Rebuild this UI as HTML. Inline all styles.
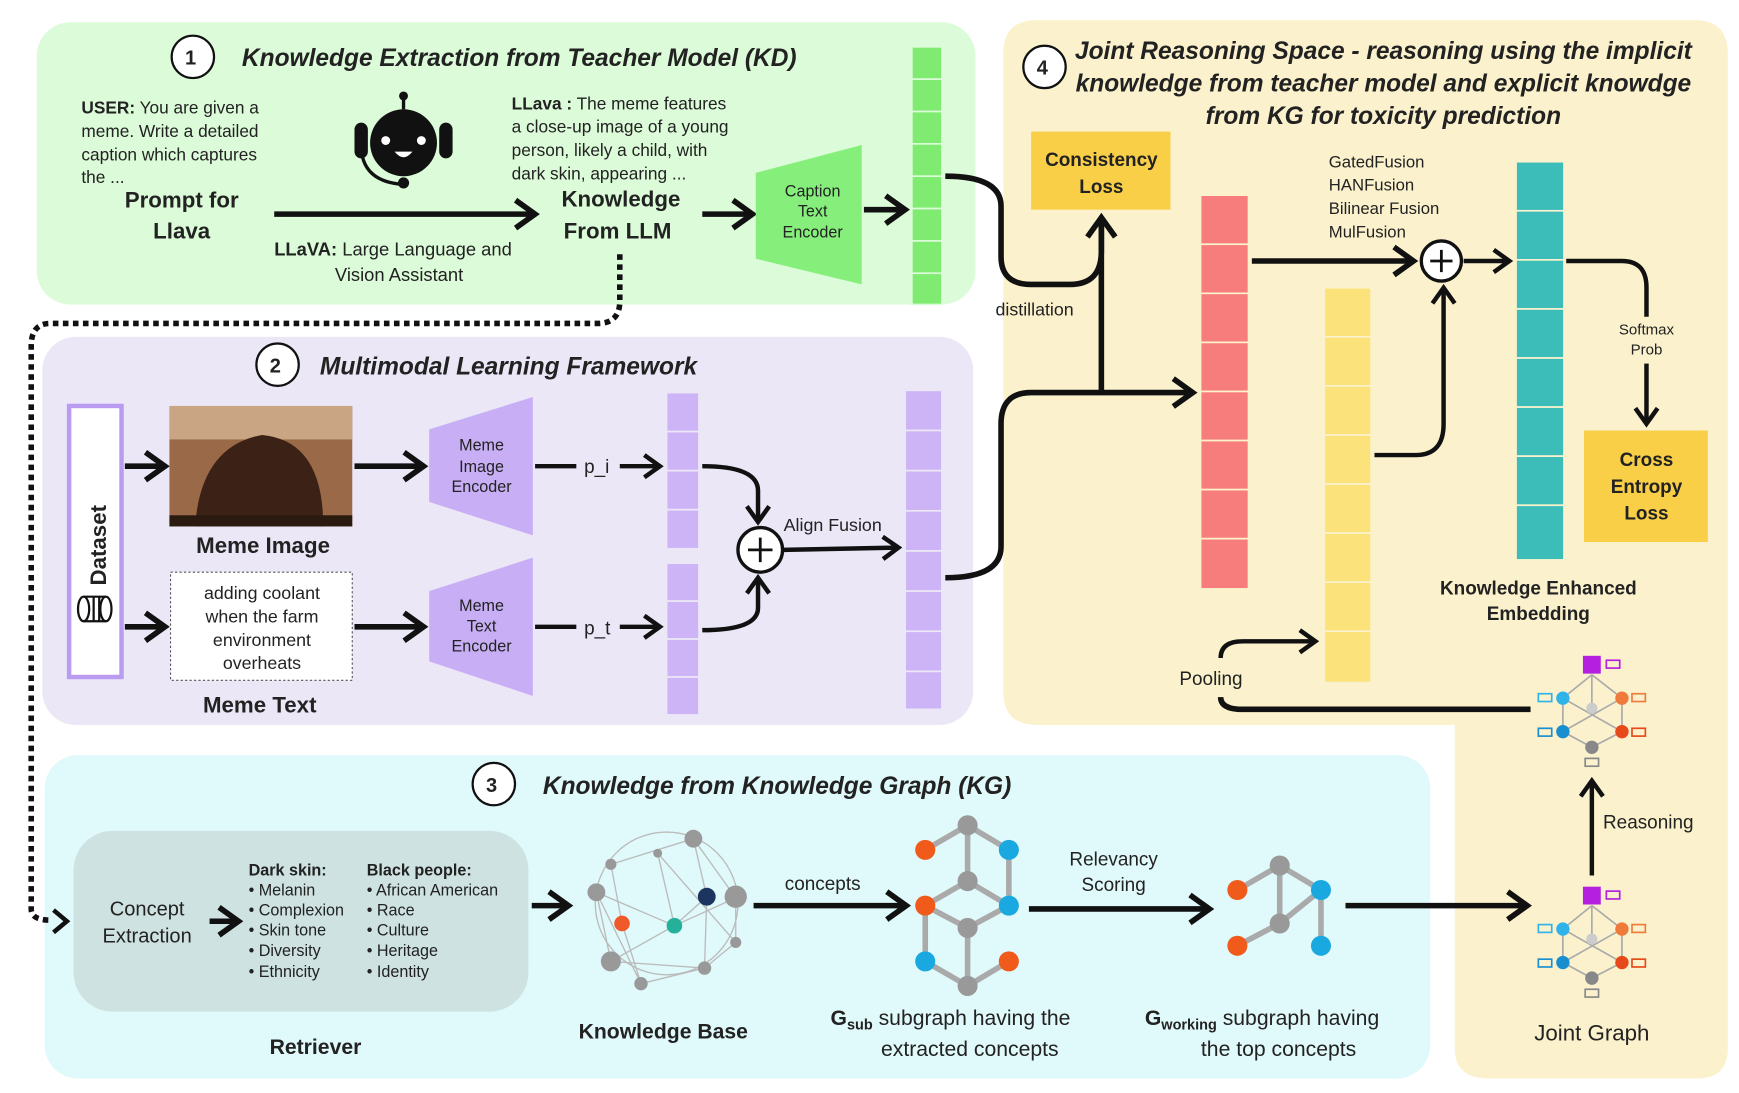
<!DOCTYPE html>
<html><head><meta charset="utf-8"><style>
html,body{margin:0;padding:0;background:#fff}
svg{display:block}
text{font-family:"Liberation Sans",sans-serif;fill:#222}
.t{font-style:italic;font-weight:bold;font-size:22px}
.b{font-weight:bold}
</style></head><body>
<svg width="1739" height="1093" viewBox="0 0 1560 980" preserveAspectRatio="none" xmlns="http://www.w3.org/2000/svg">
<defs>
<marker id="a" markerWidth="6" markerHeight="6" refX="4" refY="3" orient="auto" markerUnits="strokeWidth"><path d="M0.5,0.5 L4,3 L0.5,5.5" fill="none" stroke="#111" stroke-width="1"/></marker>
</defs>
<!-- panels -->
<rect x="33" y="20" width="842" height="253" rx="30" fill="#dcfbd8"/>
<rect x="38" y="302" width="835" height="348" rx="30" fill="#ebe7f7"/>
<rect x="40" y="677" width="1243" height="290" rx="30" fill="#e0f9fa"/>
<path d="M930,18 H1520 Q1550,18 1550,48 V940 Q1550,967 1522,967 H1335 Q1305,967 1305,940 V650 H930 Q900,650 900,620 V48 Q900,18 930,18Z" fill="#fbf2cd"/>

<!-- panel 1 -->
<circle cx="173" cy="51" r="19" fill="#fff" stroke="#111" stroke-width="2"/><text x="166" y="58" class="b" font-size="18">1</text>
<text x="217" y="59" class="t">Knowledge Extraction from Teacher Model  (KD)</text>
<g font-size="15.5"><text x="73" y="102"><tspan class="b">USER:</tspan>  You are given a</text>
<text x="73" y="123">meme. Write a detailed</text><text x="73" y="144">caption which captures</text><text x="73" y="164">the ...</text></g>
<text x="163" y="186" class="b" font-size="20" text-anchor="middle">Prompt for</text>
<text x="163" y="214" class="b" font-size="20" text-anchor="middle">Llava</text>
<!-- robot -->
<g fill="#111"><circle cx="362" cy="128" r="30"/><rect x="318" y="110" width="12" height="32" rx="6"/><rect x="394" y="110" width="12" height="32" rx="6"/><line x1="362" y1="98" x2="362" y2="88" stroke="#111" stroke-width="3"/><circle cx="362" cy="86" r="4"/><path d="M325,140 Q330,162 358,165" fill="none" stroke="#111" stroke-width="3"/><circle cx="362" cy="164" r="5"/>
<circle cx="346" cy="126" r="4" fill="#fff"/><circle cx="378" cy="126" r="4" fill="#fff"/><path d="M354,136 Q362,146 370,136Z" fill="#fff"/></g>
<line x1="246" y1="192" x2="480" y2="192" stroke="#111" stroke-width="5" marker-end="url(#a)"/>
<text x="246" y="229" font-size="16.5"><tspan class="b">LLaVA:</tspan> Large Language and</text>
<text x="358" y="252" font-size="16.5" text-anchor="middle">Vision Assistant</text>
<g font-size="15.5"><text x="459" y="98"><tspan class="b">LLava :</tspan> The meme features</text>
<text x="459" y="119">a close-up image of a young</text><text x="459" y="140">person,  likely  a child,  with</text><text x="459" y="161">dark skin, appearing ...</text></g>
<text x="557" y="185" class="b" font-size="20" text-anchor="middle">Knowledge</text>
<text x="554" y="214" class="b" font-size="20" text-anchor="middle">From LLM</text>
<line x1="630" y1="192" x2="675" y2="192" stroke="#111" stroke-width="5" marker-end="url(#a)"/>
<polygon points="678,155 773,130 773,255 678,232" fill="#86ef7c"/>
<text x="729" y="176" font-size="14.5" text-anchor="middle">Caption</text><text x="729" y="194" font-size="14.5" text-anchor="middle">Text</text><text x="729" y="213" font-size="14.5" text-anchor="middle">Encoder</text>
<line x1="775" y1="188" x2="812" y2="188" stroke="#111" stroke-width="5" marker-end="url(#a)"/>
<g fill="#7feb70" stroke="#dcfbd8" stroke-width="1.5">
<rect x="818" y="42" width="27" height="29"/><rect x="818" y="71" width="27" height="29"/><rect x="818" y="100" width="27" height="29"/><rect x="818" y="129" width="27" height="29"/><rect x="818" y="158" width="27" height="29"/><rect x="818" y="187" width="27" height="29"/><rect x="818" y="216" width="27" height="29"/><rect x="818" y="245" width="27" height="28"/></g>
<!-- dotted line -->
<path d="M556,228 V270 Q556,290 536,290 H45 Q28,290 28,310 V815 Q28,825 45,825" fill="none" stroke="#111" stroke-width="5" stroke-dasharray="5 4"/>
<path d="M48,816 L60,826 L48,836" fill="none" stroke="#111" stroke-width="4"/>
<!-- panel 2 -->
<circle cx="249" cy="327" r="19" fill="#fff" stroke="#111" stroke-width="2"/><text x="242" y="334" class="b" font-size="18">2</text>
<text x="287" y="336" class="t">Multimodal Learning Framework</text>
<rect x="62" y="364" width="47" height="243" fill="#fff" stroke="#b99cf1" stroke-width="4"/>
<text transform="translate(95,525) rotate(-90)" class="b" font-size="20">Dataset</text>
<g fill="none" stroke="#111" stroke-width="2"><ellipse cx="75" cy="546" rx="5" ry="11"/><path d="M75,535 H95 M75,557 H95"/><ellipse cx="95" cy="546" rx="5" ry="11"/><line x1="84" y1="535" x2="84" y2="557"/><line x1="89" y1="535" x2="89" y2="557"/></g>
<line x1="112" y1="418" x2="148" y2="418" stroke="#111" stroke-width="5" marker-end="url(#a)"/>
<line x1="112" y1="562" x2="148" y2="562" stroke="#111" stroke-width="5" marker-end="url(#a)"/>
<rect x="152" y="364" width="164" height="108" fill="#9a6a48"/><rect x="152" y="364" width="164" height="30" fill="#c9a584"/><path d="M175,472 Q180,400 235,390 Q290,395 290,472Z" fill="#3c2216"/><rect x="152" y="462" width="164" height="10" fill="#2a1a10"/>
<text x="236" y="496" class="b" font-size="20" text-anchor="middle">Meme Image</text>
<rect x="153" y="513" width="163" height="97" fill="#fff" stroke="#555" stroke-dasharray="2 2"/>
<g font-size="16" text-anchor="middle"><text x="235" y="537">adding coolant</text><text x="235" y="558">when the farm</text><text x="235" y="579">environment</text><text x="235" y="600">overheats</text></g>
<text x="233" y="639" class="b" font-size="20" text-anchor="middle">Meme Text</text>
<line x1="318" y1="418" x2="380" y2="418" stroke="#111" stroke-width="5" marker-end="url(#a)"/>
<line x1="318" y1="562" x2="380" y2="562" stroke="#111" stroke-width="5" marker-end="url(#a)"/>
<polygon points="385,385 478,356 478,480 385,450" fill="#c8aff5"/>
<polygon points="385,530 478,500 478,624 385,593" fill="#c8aff5"/>
<g font-size="14.5" text-anchor="middle"><text x="432" y="404">Meme</text><text x="432" y="423">Image</text><text x="432" y="441">Encoder</text>
<text x="432" y="548">Meme</text><text x="432" y="566">Text</text><text x="432" y="584">Encoder</text></g>
<line x1="480" y1="418" x2="517" y2="418" stroke="#111" stroke-width="4"/><text x="524" y="424" font-size="17">p_i</text>
<line x1="556" y1="418" x2="592" y2="418" stroke="#111" stroke-width="4" marker-end="url(#a)"/>
<line x1="480" y1="562" x2="517" y2="562" stroke="#111" stroke-width="4"/><text x="524" y="569" font-size="17">p_t</text>
<line x1="556" y1="562" x2="592" y2="562" stroke="#111" stroke-width="4" marker-end="url(#a)"/>
<g fill="#cdb4f6" stroke="#ebe7f7" stroke-width="1.5">
<rect x="598" y="352" width="29" height="35"/><rect x="598" y="387" width="29" height="35"/><rect x="598" y="422" width="29" height="35"/><rect x="598" y="457" width="29" height="35"/>
<rect x="598" y="505" width="29" height="34"/><rect x="598" y="539" width="29" height="34"/><rect x="598" y="573" width="29" height="34"/><rect x="598" y="607" width="29" height="34"/>
<rect x="812" y="350" width="33" height="36"/><rect x="812" y="386" width="33" height="36"/><rect x="812" y="422" width="33" height="36"/><rect x="812" y="458" width="33" height="36"/><rect x="812" y="494" width="33" height="36"/><rect x="812" y="530" width="33" height="36"/><rect x="812" y="566" width="33" height="36"/><rect x="812" y="602" width="33" height="34"/></g>
<path d="M630,418 Q680,418 680,440 V468" fill="none" stroke="#111" stroke-width="4" marker-end="url(#a)"/>
<path d="M630,565 Q680,565 680,545 V518" fill="none" stroke="#111" stroke-width="4" marker-end="url(#a)"/>
<circle cx="682" cy="493" r="20" fill="#fff" stroke="#111" stroke-width="3"/><path d="M682,482 V504 M671,493 H693" stroke="#111" stroke-width="2.5"/>
<line x1="703" y1="493" x2="806" y2="491" stroke="#111" stroke-width="4" marker-end="url(#a)"/>
<text x="703" y="476" font-size="16">Align Fusion</text>
<!-- connectors to panel 4 -->
<path d="M848,518 Q898,518 898,490 V380 Q898,352 925,352 H1070" fill="none" stroke="#111" stroke-width="5" marker-end="url(#a)"/>
<path d="M848,158 Q898,158 898,185 V230 Q898,255 925,255 H960 Q988,255 988,225 V195" fill="none" stroke="#111" stroke-width="5" marker-end="url(#a)"/>
<line x1="988" y1="352" x2="988" y2="200" stroke="#111" stroke-width="5"/>
<text x="893" y="283" font-size="16">distillation</text>
<!-- panel 4 -->
<circle cx="937" cy="60" r="19" fill="#fff" stroke="#111" stroke-width="2"/><text x="930" y="67" class="b" font-size="18">4</text>
<g class="t" font-size="21" text-anchor="middle"><text x="1241" y="53">Joint Reasoning Space - reasoning using the implicit</text><text x="1241" y="82">knowledge from teacher model and explicit knowdge</text><text x="1241" y="111">from KG for toxicity prediction</text></g>
<rect x="925" y="118" width="125" height="70" fill="#f9cf48"/>
<text x="988" y="149" class="b" font-size="17" text-anchor="middle">Consistency</text><text x="988" y="173" class="b" font-size="17" text-anchor="middle">Loss</text>
<g fill="#f77c7c" stroke="#fbf2cd" stroke-width="1.5">
<rect x="1077" y="175" width="43" height="44"/><rect x="1077" y="219" width="43" height="44"/><rect x="1077" y="263" width="43" height="44"/><rect x="1077" y="307" width="43" height="44"/><rect x="1077" y="351" width="43" height="44"/><rect x="1077" y="395" width="43" height="44"/><rect x="1077" y="439" width="43" height="44"/><rect x="1077" y="483" width="43" height="45"/></g>
<g fill="#fbe27a" stroke="#fbf2cd" stroke-width="1.5">
<rect x="1188" y="258" width="42" height="44"/><rect x="1188" y="302" width="42" height="44"/><rect x="1188" y="346" width="42" height="44"/><rect x="1188" y="390" width="42" height="44"/><rect x="1188" y="434" width="42" height="44"/><rect x="1188" y="478" width="42" height="44"/><rect x="1188" y="522" width="42" height="44"/><rect x="1188" y="566" width="42" height="46"/></g>
<g fill="#3dbdb9" stroke="#fbf2cd" stroke-width="1.5">
<rect x="1360" y="145" width="43" height="44"/><rect x="1360" y="189" width="43" height="44"/><rect x="1360" y="233" width="43" height="44"/><rect x="1360" y="277" width="43" height="44"/><rect x="1360" y="321" width="43" height="44"/><rect x="1360" y="365" width="43" height="44"/><rect x="1360" y="409" width="43" height="44"/><rect x="1360" y="453" width="43" height="49"/></g>
<g font-size="15"><text x="1192" y="150">GatedFusion</text><text x="1192" y="171">HANFusion</text><text x="1192" y="192">Bilinear Fusion</text><text x="1192" y="213">MulFusion</text></g>
<line x1="1123" y1="234" x2="1268" y2="234" stroke="#111" stroke-width="5" marker-end="url(#a)"/>
<circle cx="1293" cy="234" r="18" fill="#fff" stroke="#111" stroke-width="3"/><path d="M1293,224 V244 M1283,234 H1303" stroke="#111" stroke-width="2.5"/>
<path d="M1233,408 H1270 Q1295,408 1295,380 V258" fill="none" stroke="#111" stroke-width="4" marker-end="url(#a)"/>
<line x1="1313" y1="234" x2="1354" y2="234" stroke="#111" stroke-width="4" marker-end="url(#a)"/>
<path d="M1405,234 H1455 Q1477,234 1477,258 V380" fill="none" stroke="#111" stroke-width="4" marker-end="url(#a)"/>
<rect x="1446" y="284" width="60" height="42" fill="#fbf2cd"/>
<text x="1477" y="300" font-size="13.5" text-anchor="middle">Softmax</text><text x="1477" y="318" font-size="13.5" text-anchor="middle">Prob</text>
<rect x="1421" y="386" width="111" height="100" fill="#f9cf48"/>
<g class="b" font-size="17" text-anchor="middle"><text x="1477" y="418">Cross</text><text x="1477" y="442">Entropy</text><text x="1477" y="466">Loss</text></g>
<text x="1380" y="533" class="b" font-size="17" text-anchor="middle">Knowledge Enhanced</text><text x="1380" y="556" class="b" font-size="17" text-anchor="middle">Embedding</text>
<path d="M1095,590 Q1095,575 1115,575 H1180" fill="none" stroke="#111" stroke-width="4" marker-end="url(#a)"/>
<text x="1058" y="614" font-size="17">Pooling</text>
<path d="M1373,636 H1115 Q1095,636 1095,625" fill="none" stroke="#111" stroke-width="5"/>
<!-- joint graphs -->
<g id="jg" stroke="#aaa" stroke-width="1.5">
<line x1="1428" y1="605" x2="1402" y2="626"/><line x1="1428" y1="605" x2="1455" y2="626"/><line x1="1428" y1="605" x2="1428" y2="635"/><line x1="1402" y1="626" x2="1402" y2="656"/><line x1="1455" y1="626" x2="1455" y2="656"/><line x1="1402" y1="656" x2="1428" y2="670"/><line x1="1455" y1="656" x2="1428" y2="670"/><line x1="1402" y1="626" x2="1455" y2="656"/><line x1="1455" y1="626" x2="1402" y2="656"/>
<rect x="1420" y="588" width="16" height="16" fill="#b51fe0" stroke="none"/>
<circle cx="1402" cy="626" r="6" fill="#2fb3e8" stroke="none"/><circle cx="1402" cy="656" r="6" fill="#1a8fd0" stroke="none"/><circle cx="1455" cy="626" r="6" fill="#f07a3a" stroke="none"/><circle cx="1455" cy="656" r="6" fill="#e64a1a" stroke="none"/><circle cx="1428" cy="635" r="5" fill="#ccc" stroke="none"/><circle cx="1428" cy="670" r="6" fill="#888" stroke="none"/>
<rect x="1380" y="622" width="12" height="7" fill="none" stroke="#2fb3e8"/><rect x="1380" y="653" width="12" height="7" fill="none" stroke="#1a8fd0"/><rect x="1464" y="622" width="12" height="7" fill="none" stroke="#f07a3a"/><rect x="1464" y="653" width="12" height="7" fill="none" stroke="#e64a1a"/><rect x="1441" y="592" width="12" height="7" fill="none" stroke="#b51fe0"/><rect x="1422" y="680" width="12" height="7" fill="none" stroke="#888"/>
</g>
<use href="#jg" transform="translate(0,207)"/>
<line x1="1428" y1="785" x2="1428" y2="700" stroke="#111" stroke-width="4" marker-end="url(#a)"/>
<text x="1438" y="743" font-size="17">Reasoning</text>
<text x="1428" y="933" font-size="20" text-anchor="middle">Joint Graph</text>
<!-- panel 3 -->
<circle cx="443" cy="703" r="19" fill="#fff" stroke="#111" stroke-width="2"/><text x="436" y="710" class="b" font-size="18">3</text>
<text x="487" y="712" class="t">Knowledge from Knowledge Graph (KG)</text>
<rect x="66" y="745" width="408" height="162" rx="35" fill="#cee2e2"/>
<text x="132" y="821" font-size="18" text-anchor="middle">Concept</text><text x="132" y="845" font-size="18" text-anchor="middle">Extraction</text>
<line x1="188" y1="826" x2="214" y2="826" stroke="#111" stroke-width="5" marker-end="url(#a)"/>
<g font-size="14.5"><text x="223" y="785" class="b">Dark skin:</text><text x="223" y="803">• Melanin</text><text x="223" y="821">• Complexion</text><text x="223" y="839">• Skin tone</text><text x="223" y="857">• Diversity</text><text x="223" y="876">• Ethnicity</text>
<text x="329" y="785" class="b">Black people:</text><text x="329" y="803">• African American</text><text x="329" y="821">• Race</text><text x="329" y="839">• Culture</text><text x="329" y="857">• Heritage</text><text x="329" y="876">• Identity</text></g>
<text x="283" y="945" class="b" font-size="19" text-anchor="middle">Retriever</text>
<line x1="477" y1="812" x2="510" y2="812" stroke="#111" stroke-width="5" marker-end="url(#a)"/>
<!-- knowledge base -->
<g stroke="#bbb" stroke-width="1.2" fill="none"><circle cx="598" cy="810" r="64"/><path d="M535,800 L605,830 L660,805 L622,752 L548,775 L558,828 L575,882 L632,868 L634,804 L605,830 M548,862 L605,830 L590,765 L660,845 M575,882 L535,800 M622,752 L634,804 M548,775 L622,752 M535,800 L548,862 L632,868 L660,845 L660,805"/></g>
<g fill="#999"><circle cx="622" cy="752" r="8"/><circle cx="660" cy="804" r="10"/><circle cx="535" cy="800" r="8"/><circle cx="548" cy="862" r="9"/><circle cx="575" cy="882" r="6"/><circle cx="632" cy="868" r="6"/><circle cx="548" cy="775" r="5"/><circle cx="590" cy="765" r="4"/><circle cx="660" cy="845" r="5"/><circle cx="634" cy="804" r="8" fill="#1b3560"/><circle cx="558" cy="828" r="7" fill="#f05a2a"/><circle cx="605" cy="830" r="7" fill="#25b09a"/></g>
<text x="595" y="931" class="b" font-size="19" text-anchor="middle">Knowledge Base</text>
<line x1="676" y1="812" x2="813" y2="812" stroke="#111" stroke-width="5" marker-end="url(#a)"/>
<text x="738" y="798" font-size="17" text-anchor="middle">concepts</text>
<!-- gsub -->
<g stroke="#aaa" stroke-width="5" fill="none"><path d="M868,740 L830,762 M868,740 L905,762 L905,812 L868,832 L830,812 L868,790 L905,812 M868,740 L868,790 M868,832 L868,884 L830,862 L830,812 M868,884 L905,862"/></g>
<g><circle cx="868" cy="740" r="9" fill="#999"/><circle cx="868" cy="790" r="9" fill="#999"/><circle cx="868" cy="832" r="9" fill="#999"/><circle cx="868" cy="884" r="9" fill="#999"/><circle cx="830" cy="762" r="9" fill="#f05a1a"/><circle cx="905" cy="762" r="9" fill="#1aa8e0"/><circle cx="905" cy="812" r="9" fill="#1aa8e0"/><circle cx="830" cy="812" r="9" fill="#f05a1a"/><circle cx="830" cy="862" r="9" fill="#1aa8e0"/><circle cx="905" cy="862" r="9" fill="#f05a1a"/></g>
<text x="745" y="919" font-size="19"><tspan class="b">G</tspan><tspan class="b" font-size="13" dy="4">sub</tspan><tspan dy="-4"> subgraph having the</tspan></text>
<text x="870" y="947" font-size="19" text-anchor="middle">extracted concepts</text>
<line x1="923" y1="815" x2="1085" y2="815" stroke="#111" stroke-width="5" marker-end="url(#a)"/>
<text x="999" y="776" font-size="17" text-anchor="middle">Relevancy</text><text x="999" y="799" font-size="17" text-anchor="middle">Scoring</text>
<g stroke="#aaa" stroke-width="5" fill="none"><path d="M1110,798 L1148,776 L1185,798 L1185,848 M1148,776 L1148,828 L1110,848 M1148,828 L1185,798"/></g>
<circle cx="1148" cy="776" r="9" fill="#999"/><circle cx="1148" cy="828" r="9" fill="#999"/><circle cx="1110" cy="798" r="9" fill="#f05a1a"/><circle cx="1110" cy="848" r="9" fill="#f05a1a"/><circle cx="1185" cy="798" r="9" fill="#1aa8e0"/><circle cx="1185" cy="848" r="9" fill="#1aa8e0"/>
<text x="1027" y="919" font-size="19"><tspan class="b">G</tspan><tspan class="b" font-size="13" dy="4">working</tspan><tspan dy="-4"> subgraph having</tspan></text>
<text x="1147" y="947" font-size="19" text-anchor="middle">the top concepts</text>
<line x1="1207" y1="812" x2="1370" y2="812" stroke="#111" stroke-width="5" marker-end="url(#a)"/>
</svg>
</body></html>
